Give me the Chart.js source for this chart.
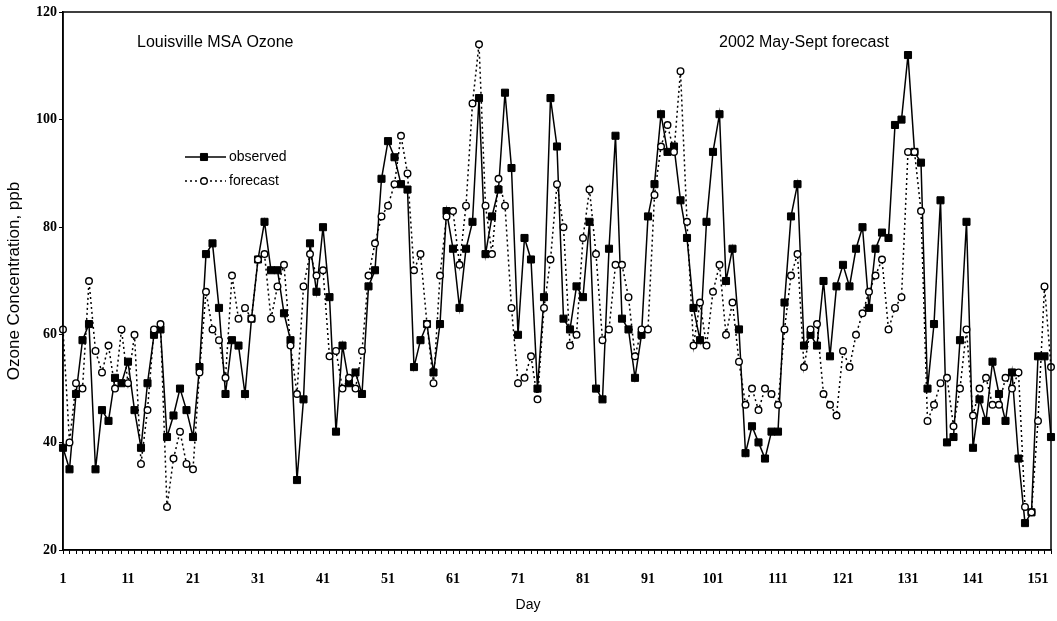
<!DOCTYPE html>
<html>
<head>
<meta charset="utf-8">
<script src="https://cdn.jsdelivr.net/npm/chart.js@4.4.0/dist/chart.umd.min.js"></script>
<style>
  body { margin: 0; background: #fff; }
  canvas { display: block; }
</style>
</head>
<body>
<canvas id="ozoneChart" width="1057" height="621"></canvas>
<script>
// day numbers on the x axis (May 1 = day 1)
const days = Array.from({ length: 153 }, (_, i) => i + 1);
const dayLabels = [1, 11, 21, 31, 41, 51, 61, 71, 81, 91, 101, 111, 121, 131, 141, 151];
const yTicks = [20, 40, 60, 80, 100, 120];

// ozone, ppb
const observed = [
    39, 35, 49, 59, 62, 35, 46, 44, 52, 51,
    55, 46, 39, 51, 60, 61, 41, 45, 50, 46,
    41, 54, 75, 77, 65, 49, 59, 58, 49, 63,
    74, 81, 72, 72, 64, 59, 33, 48, 77, 68,
    80, 67, 42, 58, 51, 53, 49, 69, 72, 89,
    96, 93, 88, 87, 54, 59, 62, 53, 62, 83,
    76, 65, 76, 81, 104, 75, 82, 87, 105, 91,
    60, 78, 74, 50, 67, 104, 95, 63, 61, 69,
    67, 81, 50, 48, 76, 97, 63, 61, 52, 60,
    82, 88, 101, 94, 95, 85, 78, 65, 59, 81,
    94, 101, 70, 76, 61, 38, 43, 40, 37, 42,
    42, 66, 82, 88, 58, 60, 58, 70, 56, 69,
    73, 69, 76, 80, 65, 76, 79, 78, 99, 100,
    112, 94, 92, 50, 62, 85, 40, 41, 59, 81,
    39, 48, 44, 55, 49, 44, 53, 37, 25, 27,
    56, 56, 41
];

const forecast = [
    61, 40, 51, 50, 70, 57, 53, 58, 50, 61,
    51, 60, 36, 46, 61, 62, 28, 37, 42, 36,
    35, 53, 68, 61, 59, 52, 71, 63, 65, 63,
    74, 75, 63, 69, 73, 58, 49, 69, 75, 71,
    72, 56, 57, 50, 52, 50, 57, 71, 77, 82,
    84, 88, 97, 90, 72, 75, 62, 51, 71, 82,
    83, 73, 84, 103, 114, 84, 75, 89, 84, 65,
    51, 52, 56, 48, 65, 74, 88, 80, 58, 60,
    78, 87, 75, 59, 61, 73, 73, 67, 56, 61,
    61, 86, 95, 99, 94, 109, 81, 58, 66, 58,
    68, 73, 60, 66, 55, 47, 50, 46, 50, 49,
    47, 61, 71, 75, 54, 61, 62, 49, 47, 45,
    57, 54, 60, 64, 68, 71, 74, 61, 65, 67,
    94, 94, 83, 44, 47, 51, 52, 43, 50, 61,
    45, 50, 52, 47, 47, 52, 50, 53, 28, 27,
    44, 69, 54
];

const SANS = '"Liberation Sans", Arial, sans-serif';
const SERIF = '"Liberation Serif", "Times New Roman", serif';

// box around the plot, the captions, the x axis title and the legend inside the plot
const framePlugin = {
    id: 'frame',
    afterDraw(chart) {
        const { ctx, chartArea: a } = chart;
        ctx.save();
        ctx.strokeStyle = '#000';
        ctx.lineWidth = 1.5;
        ctx.strokeRect(a.left, a.top, a.right - a.left, a.bottom - a.top);

        ctx.fillStyle = '#000';
        ctx.font = '16px ' + SANS;
        ctx.textBaseline = 'middle';
        ctx.textAlign = 'left';
        ctx.fillText('Louisville MSA Ozone', 137, 43);
        ctx.fillText('2002 May-Sept forecast', 719, 43);

        // the "Day" title sits a bit left of centre in the original
        ctx.font = '14px ' + SANS;
        ctx.textAlign = 'center';
        ctx.fillText('Day', 528, 605);
        ctx.textAlign = 'left';

        const rows = [{ ds: chart.data.datasets[0], y: 157 }, { ds: chart.data.datasets[1], y: 181 }];
        rows.forEach(r => {
            ctx.beginPath();
            ctx.setLineDash(r.ds.borderDash || []);
            ctx.lineWidth = r.ds.borderWidth;
            ctx.strokeStyle = r.ds.borderColor;
            ctx.moveTo(185, r.y);
            ctx.lineTo(226, r.y);
            ctx.stroke();
            ctx.setLineDash([]);
            ctx.fillStyle = r.ds.pointBackgroundColor;
            ctx.strokeStyle = r.ds.pointBorderColor;
            ctx.lineWidth = r.ds.pointBorderWidth;
            Chart.helpers.drawPoint(ctx, {
                pointStyle: r.ds.pointStyle, radius: r.ds.pointRadius,
                rotation: 0, borderWidth: r.ds.pointBorderWidth
            }, 204, r.y);
            ctx.fillStyle = '#000';
            ctx.font = '14px ' + SANS;
            ctx.fillText(r.ds.label, 229, r.y);
        });
        ctx.restore();
    }
};

new Chart(document.getElementById('ozoneChart'), {
    type: 'line',
    data: {
        labels: days,
        datasets: [{
            label: 'observed',
            data: observed,
            borderColor: '#000',
            borderWidth: 1.5,
            pointStyle: 'rect',
            pointRadius: 5,
            pointBackgroundColor: '#000',
            pointBorderColor: '#000',
            pointBorderWidth: 1,
            tension: 0,
            order: 1
        }, {
            label: 'forecast',
            data: forecast,
            borderColor: '#000',
            borderWidth: 1.5,
            borderDash: [2, 3],
            pointStyle: 'circle',
            pointRadius: 3.3,
            pointBackgroundColor: '#fff',
            pointBorderColor: '#000',
            pointBorderWidth: 1.4,
            tension: 0,
            order: 0
        }]
    },
    options: {
        responsive: false,
        animation: false,
        devicePixelRatio: 1,
        layout: { padding: { top: 12, right: 6, left: 0, bottom: 0 } },
        plugins: {
            legend: { display: false },
            tooltip: { enabled: false }
        },
        scales: {
            x: {
                type: 'category',
                offset: false,
                afterFit: s => {
                    s.height = 71;
                    s.paddingLeft = 0;
                    s.paddingRight = 0;
                },
                grid: {
                    drawOnChartArea: false,
                    drawTicks: true,
                    tickLength: 4,
                    color: '#000',
                    lineWidth: 1
                },
                border: { display: true, color: '#000', width: 1.5 },
                ticks: {
                    autoSkip: false,
                    maxRotation: 0,
                    minRotation: 0,
                    padding: 17,
                    color: '#000',
                    font: { family: SERIF, size: 14, weight: 'bold' },
                    callback: function (value) {
                        const d = Number(this.getLabelForValue(value));
                        return dayLabels.includes(d) ? String(d) : '';
                    }
                }
            },
            y: {
                min: 20,
                max: 120,
                afterFit: s => { s.width = 63; },
                afterBuildTicks: s => { s.ticks = yTicks.map(v => ({ value: v })); },
                grid: {
                    drawOnChartArea: false,
                    drawTicks: true,
                    tickLength: 4,
                    color: '#000'
                },
                border: { display: true, color: '#000', width: 1.5 },
                ticks: {
                    padding: 2,
                    color: '#000',
                    font: { family: SERIF, size: 14, weight: 'bold' }
                },
                title: {
                    display: true,
                    text: 'Ozone Concentration, ppb',
                    color: '#000',
                    font: { family: SANS, size: 17 },
                    padding: { top: 4, bottom: 0 }
                }
            }
        }
    },
    plugins: [framePlugin]
});
</script>
</body>
</html>
